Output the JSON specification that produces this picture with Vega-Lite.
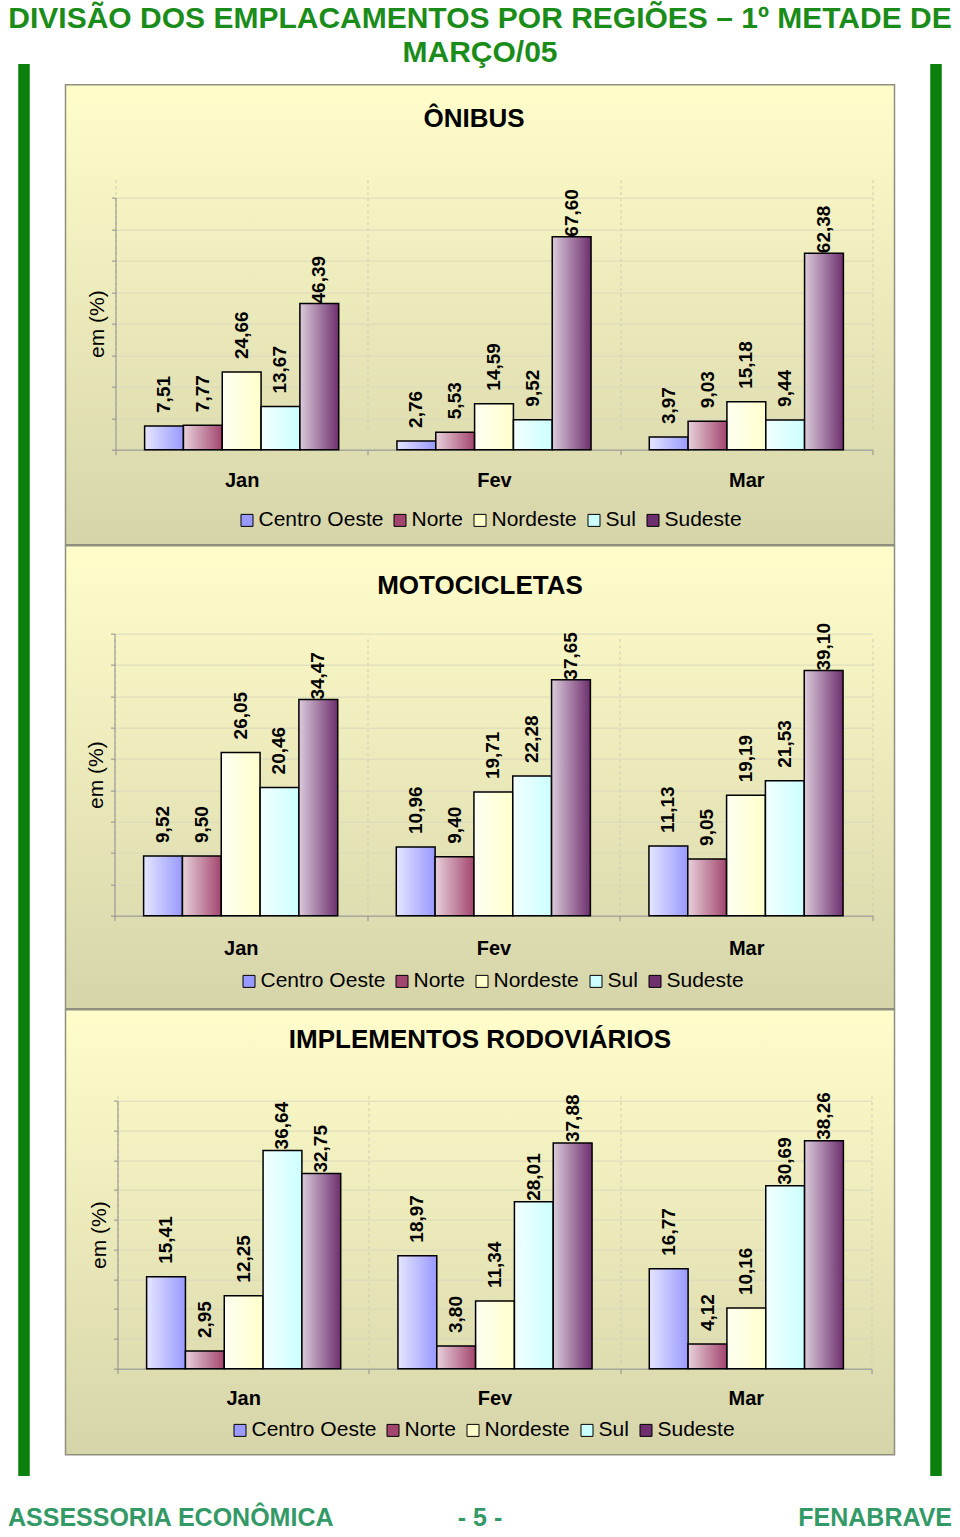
{
  "$schema": "https://vega.github.io/schema/vega-lite/v6.json",
  "background": "white",
  "padding": {"left": 8, "right": 8, "top": 4, "bottom": 0},
  "title": {"text": ["DIVISÃO DOS EMPLACAMENTOS POR REGIÕES – 1º METADE DE", "MARÇO/05"], "fontSize": 30, "lineHeight": 34, "color": "#1A8C1A", "font": "Liberation Sans", "fontWeight": "bold", "anchor": "middle", "offset": -4},
  "datasets": {
    "emplacamentos": [
      {"tipo": "onibus", "month": "Jan", "region": "Centro Oeste", "value": 7.51},
      {"tipo": "onibus", "month": "Jan", "region": "Norte", "value": 7.77},
      {"tipo": "onibus", "month": "Jan", "region": "Nordeste", "value": 24.66},
      {"tipo": "onibus", "month": "Jan", "region": "Sul", "value": 13.67},
      {"tipo": "onibus", "month": "Jan", "region": "Sudeste", "value": 46.39},
      {"tipo": "onibus", "month": "Fev", "region": "Centro Oeste", "value": 2.76},
      {"tipo": "onibus", "month": "Fev", "region": "Norte", "value": 5.53},
      {"tipo": "onibus", "month": "Fev", "region": "Nordeste", "value": 14.59},
      {"tipo": "onibus", "month": "Fev", "region": "Sul", "value": 9.52},
      {"tipo": "onibus", "month": "Fev", "region": "Sudeste", "value": 67.60},
      {"tipo": "onibus", "month": "Mar", "region": "Centro Oeste", "value": 3.97},
      {"tipo": "onibus", "month": "Mar", "region": "Norte", "value": 9.03},
      {"tipo": "onibus", "month": "Mar", "region": "Nordeste", "value": 15.18},
      {"tipo": "onibus", "month": "Mar", "region": "Sul", "value": 9.44},
      {"tipo": "onibus", "month": "Mar", "region": "Sudeste", "value": 62.38},
      {"tipo": "motos", "month": "Jan", "region": "Centro Oeste", "value": 9.52},
      {"tipo": "motos", "month": "Jan", "region": "Norte", "value": 9.50},
      {"tipo": "motos", "month": "Jan", "region": "Nordeste", "value": 26.05},
      {"tipo": "motos", "month": "Jan", "region": "Sul", "value": 20.46},
      {"tipo": "motos", "month": "Jan", "region": "Sudeste", "value": 34.47},
      {"tipo": "motos", "month": "Fev", "region": "Centro Oeste", "value": 10.96},
      {"tipo": "motos", "month": "Fev", "region": "Norte", "value": 9.40},
      {"tipo": "motos", "month": "Fev", "region": "Nordeste", "value": 19.71},
      {"tipo": "motos", "month": "Fev", "region": "Sul", "value": 22.28},
      {"tipo": "motos", "month": "Fev", "region": "Sudeste", "value": 37.65},
      {"tipo": "motos", "month": "Mar", "region": "Centro Oeste", "value": 11.13},
      {"tipo": "motos", "month": "Mar", "region": "Norte", "value": 9.05},
      {"tipo": "motos", "month": "Mar", "region": "Nordeste", "value": 19.19},
      {"tipo": "motos", "month": "Mar", "region": "Sul", "value": 21.53},
      {"tipo": "motos", "month": "Mar", "region": "Sudeste", "value": 39.10},
      {"tipo": "implementos", "month": "Jan", "region": "Centro Oeste", "value": 15.41},
      {"tipo": "implementos", "month": "Jan", "region": "Norte", "value": 2.95},
      {"tipo": "implementos", "month": "Jan", "region": "Nordeste", "value": 12.25},
      {"tipo": "implementos", "month": "Jan", "region": "Sul", "value": 36.64},
      {"tipo": "implementos", "month": "Jan", "region": "Sudeste", "value": 32.75},
      {"tipo": "implementos", "month": "Fev", "region": "Centro Oeste", "value": 18.97},
      {"tipo": "implementos", "month": "Fev", "region": "Norte", "value": 3.80},
      {"tipo": "implementos", "month": "Fev", "region": "Nordeste", "value": 11.34},
      {"tipo": "implementos", "month": "Fev", "region": "Sul", "value": 28.01},
      {"tipo": "implementos", "month": "Fev", "region": "Sudeste", "value": 37.88},
      {"tipo": "implementos", "month": "Mar", "region": "Centro Oeste", "value": 16.77},
      {"tipo": "implementos", "month": "Mar", "region": "Norte", "value": 4.12},
      {"tipo": "implementos", "month": "Mar", "region": "Nordeste", "value": 10.16},
      {"tipo": "implementos", "month": "Mar", "region": "Sul", "value": 30.69},
      {"tipo": "implementos", "month": "Mar", "region": "Sudeste", "value": 38.26}
    ]
  },
  "spacing": 27,
  "center": true,
  "vconcat": [
    {
      "spacing": 35,
      "center": true,
      "hconcat": [
        {"width": 11, "height": 1412, "data": {"values": [{}]}, "mark": {"type": "rect", "color": "#0B800B"}, "view": {"stroke": null, "fill": "#0B800B"}},
        {
          "spacing": -2,
          "resolve": {"scale": {"color": "independent"}, "legend": {"color": "independent"}},
          "vconcat": [
            {
              "width": 829, "height": 460,
              "data": {"name": "emplacamentos"},
              "transform": [{"filter": "datum.tipo == 'onibus'"}],
              "view": {"fill": {"gradient": "linear", "x1": 0, "y1": 0, "x2": 0, "y2": 1, "stops": [{"offset": 0, "color": "#FFFDCA"}, {"offset": 1, "color": "#D6D5AA"}]}, "stroke": "#8F8F80", "strokeWidth": 1.5},
              "title": {"text": "ÔNIBUS", "offset": -68, "dx": -6, "baseline": "alphabetic", "fontSize": 26, "fontWeight": "bold", "color": "black", "anchor": "middle", "font": "Liberation Sans"},
              "encoding": {
                "x": {"field": "month", "type": "nominal", "scale": {"domain": ["Jan", "Fev", "Mar"], "range": [50, 807], "paddingInner": 0, "paddingOuter": 0},
                  "axis": {"offset": -95, "tickBand": "extent", "grid": true, "gridDash": [3, 3], "gridColor": "#CFCDB0", "domainColor": "#8E8E8E", "tickColor": "#8E8E8E", "tickSize": 5, "labelAngle": 0, "labelFontSize": 20, "labelFontWeight": "bold", "labelColor": "black", "labelPadding": 16, "title": null}},
                "xOffset": {"field": "region", "type": "nominal", "scale": {"domain": ["Centro Oeste", "Norte", "Nordeste", "Sul", "Sudeste"], "paddingInner": 0, "paddingOuter": 0.75}},
                "y": {"field": "value", "type": "quantitative", "scale": {"domain": [0, 80], "range": [365, 113], "nice": false},
                  "axis": {"offset": -50, "values": [0, 10, 20, 30, 40, 50, 60, 70, 80], "labels": false, "tickSize": 4, "tickColor": "#8E8E8E", "domainColor": "#8E8E8E", "grid": true, "gridColor": "#DAD8BC", "title": "em (%)", "titleFontSize": 21, "titleFontWeight": "normal", "titleColor": "black", "titlePadding": 4}}
              },
              "layer": [
                {"mark": {"type": "bar"},
                  "encoding": {"color": {"field": "region", "type": "nominal", "scale": {"domain": ["Centro Oeste", "Norte", "Nordeste", "Sul", "Sudeste"], "range": ["#9999FF", "#A3466F", "#FFFFCC", "#CCFFFF", "#6E2F6E"]},
                    "legend": {"orient": "none", "legendX": 171, "legendY": 425, "direction": "horizontal", "title": null, "symbolType": "square", "symbolSize": 144, "symbolStrokeColor": "black", "symbolStrokeWidth": 1, "labelFontSize": 21, "labelColor": "black", "labelOffset": 1, "columnPadding": 6, "padding": 0}}}},
                {"mark": {"type": "bar", "fill": {"gradient": "linear", "x1": 0, "y1": 0, "x2": 1, "y2": 0, "stops": [{"offset": 0, "color": "rgba(255,255,255,0.75)"}, {"offset": 1, "color": "rgba(255,255,255,0)"}]}, "stroke": "black", "strokeWidth": 1.5}},
                {"transform": [{"filter": "datum.region != 'Sudeste'"}],
                  "mark": {"type": "text", "angle": 270, "align": "left", "baseline": "middle", "dx": 13, "fontSize": 19, "fontWeight": "bold", "color": "black"},
                  "encoding": {"text": {"field": "value", "type": "quantitative", "format": ".2f"}}},
                {"transform": [{"filter": "datum.region == 'Sudeste'"}],
                  "mark": {"type": "text", "angle": 270, "align": "left", "baseline": "middle", "dx": 0, "fontSize": 19, "fontWeight": "bold", "color": "black"},
                  "encoding": {"text": {"field": "value", "type": "quantitative", "format": ".2f"}}}
              ]
            },
            {
              "width": 829, "height": 463,
              "data": {"name": "emplacamentos"},
              "transform": [{"filter": "datum.tipo == 'motos'"}],
              "view": {"fill": {"gradient": "linear", "x1": 0, "y1": 0, "x2": 0, "y2": 1, "stops": [{"offset": 0, "color": "#FFFDCA"}, {"offset": 1, "color": "#D6D5AA"}]}, "stroke": "#8F8F80", "strokeWidth": 1.5},
              "title": {"text": "MOTOCICLETAS", "offset": -74, "baseline": "alphabetic", "fontSize": 26, "fontWeight": "bold", "color": "black", "anchor": "middle", "font": "Liberation Sans"},
              "encoding": {
                "x": {"field": "month", "type": "nominal", "scale": {"domain": ["Jan", "Fev", "Mar"], "range": [49, 807], "paddingInner": 0, "paddingOuter": 0},
                  "axis": {"offset": -93, "tickBand": "extent", "grid": true, "gridDash": [3, 3], "gridColor": "#CFCDB0", "domainColor": "#8E8E8E", "tickColor": "#8E8E8E", "tickSize": 5, "labelAngle": 0, "labelFontSize": 20, "labelFontWeight": "bold", "labelColor": "black", "labelPadding": 18, "title": null}},
                "xOffset": {"field": "region", "type": "nominal", "scale": {"domain": ["Centro Oeste", "Norte", "Nordeste", "Sul", "Sudeste"], "paddingInner": 0, "paddingOuter": 0.75}},
                "y": {"field": "value", "type": "quantitative", "scale": {"domain": [0, 45], "range": [370, 88], "nice": false},
                  "axis": {"offset": -49, "values": [0, 5, 10, 15, 20, 25, 30, 35, 40, 45], "labels": false, "tickSize": 4, "tickColor": "#8E8E8E", "domainColor": "#8E8E8E", "grid": true, "gridColor": "#DAD8BC", "title": "em (%)", "titleFontSize": 21, "titleFontWeight": "normal", "titleColor": "black", "titlePadding": 4}}
              },
              "layer": [
                {"mark": {"type": "bar"},
                  "encoding": {"color": {"field": "region", "type": "nominal", "scale": {"domain": ["Centro Oeste", "Norte", "Nordeste", "Sul", "Sudeste"], "range": ["#9999FF", "#A3466F", "#FFFFCC", "#CCFFFF", "#6E2F6E"]},
                    "legend": {"orient": "none", "legendX": 173, "legendY": 425, "direction": "horizontal", "title": null, "symbolType": "square", "symbolSize": 144, "symbolStrokeColor": "black", "symbolStrokeWidth": 1, "labelFontSize": 21, "labelColor": "black", "labelOffset": 1, "columnPadding": 6, "padding": 0}}}},
                {"mark": {"type": "bar", "fill": {"gradient": "linear", "x1": 0, "y1": 0, "x2": 1, "y2": 0, "stops": [{"offset": 0, "color": "rgba(255,255,255,0.75)"}, {"offset": 1, "color": "rgba(255,255,255,0)"}]}, "stroke": "black", "strokeWidth": 1.5}},
                {"transform": [{"filter": "datum.region != 'Sudeste'"}],
                  "mark": {"type": "text", "angle": 270, "align": "left", "baseline": "middle", "dx": 13, "fontSize": 19, "fontWeight": "bold", "color": "black"},
                  "encoding": {"text": {"field": "value", "type": "quantitative", "format": ".2f"}}},
                {"transform": [{"filter": "datum.region == 'Sudeste'"}],
                  "mark": {"type": "text", "angle": 270, "align": "left", "baseline": "middle", "dx": 0, "fontSize": 19, "fontWeight": "bold", "color": "black"},
                  "encoding": {"text": {"field": "value", "type": "quantitative", "format": ".2f"}}}
              ]
            },
            {
              "width": 829, "height": 445,
              "data": {"name": "emplacamentos"},
              "transform": [{"filter": "datum.tipo == 'implementos'"}],
              "view": {"fill": {"gradient": "linear", "x1": 0, "y1": 0, "x2": 0, "y2": 1, "stops": [{"offset": 0, "color": "#FFFDCA"}, {"offset": 1, "color": "#D6D5AA"}]}, "stroke": "#8F8F80", "strokeWidth": 1.5},
              "title": {"text": "IMPLEMENTOS RODOVIÁRIOS", "offset": -64, "baseline": "alphabetic", "fontSize": 26, "fontWeight": "bold", "color": "black", "anchor": "middle", "font": "Liberation Sans"},
              "encoding": {
                "x": {"field": "month", "type": "nominal", "scale": {"domain": ["Jan", "Fev", "Mar"], "range": [52, 806], "paddingInner": 0, "paddingOuter": 0},
                  "axis": {"offset": -86, "tickBand": "extent", "grid": true, "gridDash": [3, 3], "gridColor": "#CFCDB0", "domainColor": "#8E8E8E", "tickColor": "#8E8E8E", "tickSize": 5, "labelAngle": 0, "labelFontSize": 20, "labelFontWeight": "bold", "labelColor": "black", "labelPadding": 15, "title": null}},
                "xOffset": {"field": "region", "type": "nominal", "scale": {"domain": ["Centro Oeste", "Norte", "Nordeste", "Sul", "Sudeste"], "paddingInner": 0, "paddingOuter": 0.75}},
                "y": {"field": "value", "type": "quantitative", "scale": {"domain": [0, 45], "range": [359, 91], "nice": false},
                  "axis": {"offset": -52, "values": [0, 5, 10, 15, 20, 25, 30, 35, 40, 45], "labels": false, "tickSize": 4, "tickColor": "#8E8E8E", "domainColor": "#8E8E8E", "grid": true, "gridColor": "#DAD8BC", "title": "em (%)", "titleFontSize": 21, "titleFontWeight": "normal", "titleColor": "black", "titlePadding": 4}}
              },
              "layer": [
                {"mark": {"type": "bar"},
                  "encoding": {"color": {"field": "region", "type": "nominal", "scale": {"domain": ["Centro Oeste", "Norte", "Nordeste", "Sul", "Sudeste"], "range": ["#9999FF", "#A3466F", "#FFFFCC", "#CCFFFF", "#6E2F6E"]},
                    "legend": {"orient": "none", "legendX": 164, "legendY": 410, "direction": "horizontal", "title": null, "symbolType": "square", "symbolSize": 144, "symbolStrokeColor": "black", "symbolStrokeWidth": 1, "labelFontSize": 21, "labelColor": "black", "labelOffset": 1, "columnPadding": 6, "padding": 0}}}},
                {"mark": {"type": "bar", "fill": {"gradient": "linear", "x1": 0, "y1": 0, "x2": 1, "y2": 0, "stops": [{"offset": 0, "color": "rgba(255,255,255,0.75)"}, {"offset": 1, "color": "rgba(255,255,255,0)"}]}, "stroke": "black", "strokeWidth": 1.5}},
                {"transform": [{"filter": "datum.region != 'Sudeste' && datum.region != 'Sul'"}],
                  "mark": {"type": "text", "angle": 270, "align": "left", "baseline": "middle", "dx": 13, "fontSize": 19, "fontWeight": "bold", "color": "black"},
                  "encoding": {"text": {"field": "value", "type": "quantitative", "format": ".2f"}}},
                {"transform": [{"filter": "datum.region == 'Sudeste' || datum.region == 'Sul'"}],
                  "mark": {"type": "text", "angle": 270, "align": "left", "baseline": "middle", "dx": 1, "fontSize": 19, "fontWeight": "bold", "color": "black"},
                  "encoding": {"text": {"field": "value", "type": "quantitative", "format": ".2f"}}}
              ]
            }
          ]
        },
        {"width": 11, "height": 1412, "data": {"values": [{}]}, "mark": {"type": "rect", "color": "#0B800B"}, "view": {"stroke": null, "fill": "#0B800B"}}
      ]
    },
    {
      "width": 944, "height": 30,
      "view": {"stroke": null},
      "data": {"values": [{"t": "ASSESSORIA ECONÔMICA"}, {"t": "- 5 -"}, {"t": "FENABRAVE"}]},
      "encoding": {
        "x": {"field": "t", "type": "nominal", "scale": {"type": "point", "padding": 0, "domain": ["ASSESSORIA ECONÔMICA", "- 5 -", "FENABRAVE"]}, "axis": null},
        "text": {"field": "t", "type": "nominal"}
      },
      "layer": [
        {"transform": [{"filter": "datum.t == 'ASSESSORIA ECONÔMICA'"}], "mark": {"type": "text", "align": "left", "baseline": "middle", "fontSize": 25, "fontWeight": "bold", "color": "#339966"}},
        {"transform": [{"filter": "datum.t == '- 5 -'"}], "mark": {"type": "text", "align": "center", "baseline": "middle", "fontSize": 25, "fontWeight": "bold", "color": "#339966"}},
        {"transform": [{"filter": "datum.t == 'FENABRAVE'"}], "mark": {"type": "text", "align": "right", "baseline": "middle", "fontSize": 25, "fontWeight": "bold", "color": "#339966"}}
      ]
    }
  ],
  "config": {
    "font": "Liberation Sans",
    "locale": {"number": {"decimal": ",", "thousands": ".", "grouping": [3], "currency": ["R$ ", ""]}}
  }
}
